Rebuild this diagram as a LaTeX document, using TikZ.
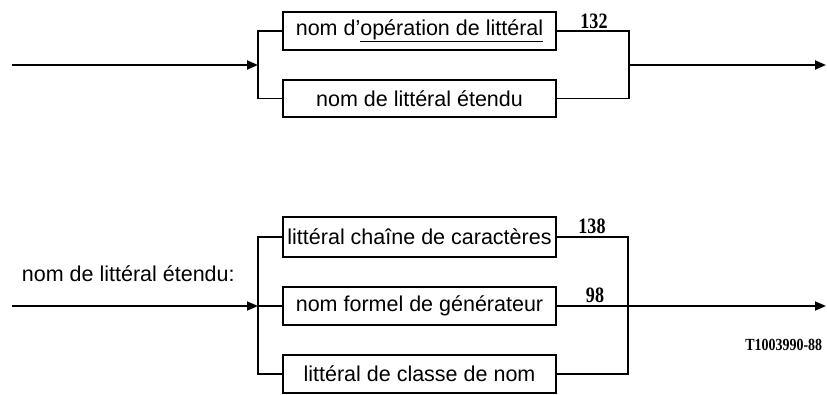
\documentclass[tikz,border=0pt]{standalone}
\usepackage{graphicx}
\usepackage{fontspec}
\setmainfont{Liberation Sans}
\newfontfamily\numfont{Liberation Serif}
\usetikzlibrary{arrows.meta}
\newcommand{\condensed}[1]{\scalebox{0.82}[1]{#1}}
\begin{document}
\begin{tikzpicture}[x=1pt,y=-1pt,
  line width=1.8pt,
  boxstyle/.style={draw,rectangle,minimum width=273pt,minimum height=38pt,inner sep=0pt,
    font=\fontsize{21.5}{25}\selectfont},
  flow/.style={-{Triangle[length=11pt,width=9pt]}},
  numlabel/.style={font=\numfont\bfseries\fontsize{22}{24}\selectfont,inner sep=0.5pt,anchor=south},
  txt/.style={font=\fontsize{21.5}{25}\selectfont,inner sep=0pt}]
\useasboundingbox (0,0) rectangle (827,394);
% top diagram
\coordinate (inA) at (12,65);
\coordinate (jA) at (258,65);
\coordinate (kA) at (629,65);
\coordinate (outA) at (826,65);
\node[boxstyle] (a1) at (419.5,31) {nom d’\underline{opération de littéral}};
\node[boxstyle,minimum height=37pt] (a2) at (419.5,98.5) {nom de littéral étendu};
\draw[flow] (inA) -- (jA);
\draw (jA) |- (a1.west);
\draw (jA) |- (a2.west);
\draw (a1.east) -| (kA);
\draw (a2.east) -| (kA);
\draw[flow] (kA) -- (outA);
\node[numlabel] (n132) at (594,30) {\condensed{132}};
% bottom diagram
\coordinate (inB) at (12,306);
\coordinate (jB) at (258,306);
\coordinate (kB) at (628,306);
\coordinate (outB) at (826,306);
\node[txt,anchor=base west] (lbl) at (21,281) {nom de littéral étendu:};
\node[boxstyle,minimum height=40pt] (b1) at (419.5,237) {littéral chaîne de caractères};
\node[boxstyle] (b2) at (419.5,306) {nom formel de générateur};
\node[boxstyle] (b3) at (419.5,374) {littéral de classe de nom};
\draw[flow] (inB) -- (jB);
\draw (jB) |- (b1.west);
\draw (jB) -- (b2.west);
\draw (jB) |- (b3.west);
\draw (b1.east) -| (kB);
\draw (b3.east) -| (kB);
\draw[flow] (b2.east) -- (outB);
\node[numlabel] (n138) at (592,235) {\condensed{138}};
\node[numlabel] (n98) at (595,304) {\condensed{98}};
\node[font=\numfont\bfseries\fontsize{17}{20}\selectfont,anchor=base east,inner sep=0pt] (ref) at (823,350) {\condensed{T1003990-88}};
\end{tikzpicture}
\end{document}
